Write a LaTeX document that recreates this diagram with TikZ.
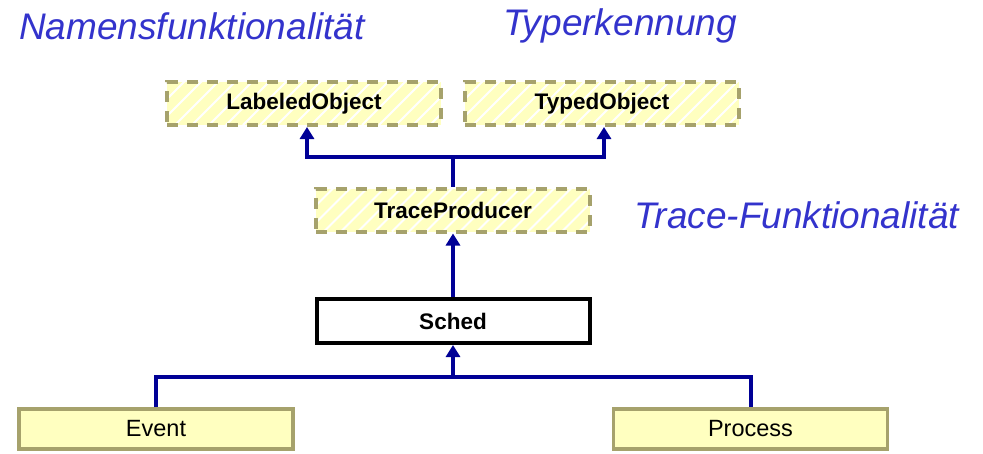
\documentclass[tikz,border=0pt]{standalone}
\usepackage{fontspec}
\setmainfont{Liberation Sans}
\usetikzlibrary{arrows.meta}
\definecolor{labelblue}{RGB}{51,51,204}
\definecolor{linkblue}{RGB}{0,0,150}
\definecolor{boxfill}{RGB}{255,255,192}
\definecolor{olive}{RGB}{166,162,108}
\tikzset{
  hatchbox/.style={draw=olive, line width=4pt, dash pattern=on 11pt off 9pt,
    fill=boxfill, inner sep=0pt, minimum width=274pt, minimum height=43pt,
    font=\fontsize{22.5}{24}\selectfont\bfseries,
    path picture={\foreach \k in {0,...,22}{
      \draw[white, line width=2pt, solid]
        ([xshift=\k*17pt-60pt]path picture bounding box.south west) -- ++(70,-70);}}},
  classbox/.style={draw=black, line width=4pt, fill=white, inner sep=0pt,
    minimum width=273pt, minimum height=44pt,
    font=\fontsize{22.5}{24}\selectfont\bfseries},
  leafbox/.style={draw=olive, line width=3.5pt, fill=boxfill, inner sep=0pt,
    minimum width=274pt, minimum height=40pt,
    font=\fontsize{23.5}{25}\selectfont},
  note/.style={text=labelblue, font=\fontsize{37}{40}\selectfont\itshape, inner sep=0pt},
  link/.style={draw=linkblue, line width=4pt},
  inherit/.style={link, -{Triangle[width=14pt,length=12pt]}}
}
\begin{document}
\begin{tikzpicture}[x=1pt,y=-1pt]
  \useasboundingbox (0,0) rectangle (983,453);

  % annotations
  \node[note] (n1) at (192,26) {Namensfunktionalität};
  \node[note] (n2) at (620,26) {Typerkennung};
  \node[note] (n3) at (797,215) {Trace-Funktionalität};

  % classes
  \node[hatchbox] (lo) at (304,103.5) {LabeledObject};
  \node[hatchbox] (to) at (602,103.5) {TypedObject};
  \node[hatchbox] (tp) at (453,210) {TraceProducer};
  \node[classbox] (sc) at (453,321) {Sched};
  \node[leafbox] (ev) at (156,429) {Event};
  \node[leafbox] (pr) at (750.5,429) {Process};

  % generalisation links
  \coordinate (j1) at (453,157);
  \coordinate (j2) at (453,377);
  \draw[link] (tp.north) -- (j1);
  \draw[inherit] (j1) -| ([xshift=3pt]lo.south);
  \draw[inherit] (j1) -| ([xshift=2pt]to.south);
  \draw[inherit] (sc.north) -- (tp.south);
  \draw[link] (ev.north) |- (j2) -| (pr.north);
  \draw[inherit] (j2) -- (sc.south);
\end{tikzpicture}
\end{document}
